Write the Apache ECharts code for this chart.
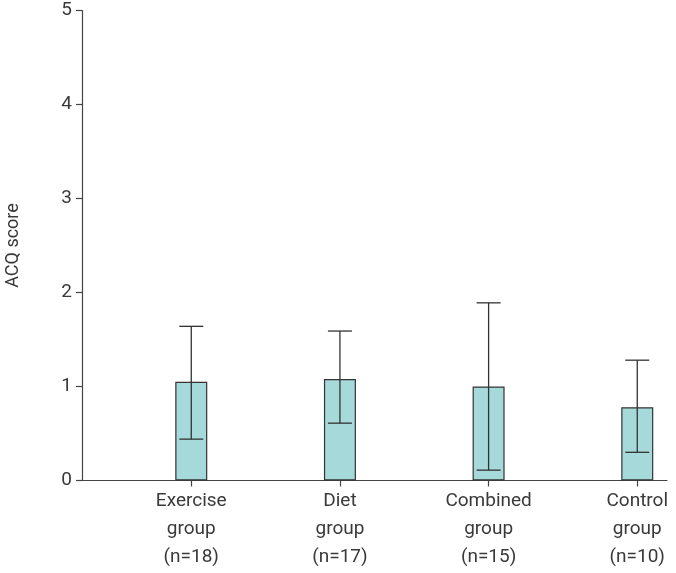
<!DOCTYPE html>
<html><head><meta charset="utf-8">
<script src="https://cdn.jsdelivr.net/npm/echarts@6/dist/echarts.min.js"></script>
<style>html,body{margin:0;padding:0;background:#fff}#c{width:676px;height:573px}</style>
</head><body><div id="c"></div>
<script>
const categories = ['Exercise\ngroup\n(n=18)', 'Diet\ngroup\n(n=17)', 'Combined\ngroup\n(n=15)', 'Control\ngroup\n(n=10)'];
const positions = [1, 2, 3, 4];
const scores = [1.05, 1.08, 1.00, 0.78];
const lows = [0.44, 0.61, 0.11, 0.30];
const highs = [1.64, 1.59, 1.89, 1.28];
const yTicks = [0, 1, 2, 3, 4, 5];

const chart = echarts.init(document.getElementById('c'), null, {renderer: 'canvas'});
const font = 'Roboto, "Noto Sans", sans-serif';
const axisColor = '#444';
const textColor = '#3a3a3a';
const option = {
  animation: false,
  backgroundColor: '#fff',
  grid: {left: 82, right: 9, top: 10.5, bottom: 92.5, containLabel: false, outerBoundsMode: 'none'},
  xAxis: {
    type: 'value', min: 0.265, max: 4.2,
    axisLine: {show: true, lineStyle: {color: axisColor, width: 1.2}},
    axisTick: {show: true, customValues: positions, length: 6, lineStyle: {color: axisColor, width: 1.2}},
    axisLabel: {show: true, customValues: positions, formatter: v => categories[Math.round(v) - 1] || '',
      color: textColor, fontSize: 19, fontFamily: font, lineHeight: 28, margin: 7, align: 'center'},
    splitLine: {show: false}
  },
  yAxis: {
    type: 'value', min: yTicks[0], max: yTicks[yTicks.length - 1], interval: 1,
    name: 'ACQ score', nameLocation: 'middle', nameGap: 60, nameRotate: 90,
    nameTextStyle: {color: textColor, fontSize: 18, fontFamily: font},
    axisLine: {show: true, lineStyle: {color: axisColor, width: 1.2}},
    axisTick: {show: true, length: 6, lineStyle: {color: axisColor, width: 1.2}},
    axisLabel: {color: textColor, fontSize: 19, fontFamily: font, margin: 10},
    splitLine: {show: false}
  },
  series: [
    {
      type: 'bar', barWidth: 32,
      data: positions.map((p, i) => [p, scores[i]]),
      itemStyle: {color: '#a6d9da', borderColor: '#333', borderWidth: 1.2},
      z: 2
    },
    {
      type: 'custom', z: 3,
      data: positions.map((p, i) => [p, lows[i], highs[i]]),
      renderItem: (params, api) => {
        const x = api.value(0);
        const lo = api.coord([x, api.value(1)]);
        const hi = api.coord([x, api.value(2)]);
        const hw = 12;
        const style = {stroke: '#333', lineWidth: 1.3, fill: null};
        return {type: 'group', children: [
          {type: 'line', shape: {x1: lo[0], y1: lo[1], x2: hi[0], y2: hi[1]}, style},
          {type: 'line', shape: {x1: hi[0] - hw, y1: hi[1], x2: hi[0] + hw, y2: hi[1]}, style},
          {type: 'line', shape: {x1: lo[0] - hw, y1: lo[1], x2: lo[0] + hw, y2: lo[1]}, style}
        ]};
      }
    }
  ]
};
chart.setOption(option);
</script></body></html>
